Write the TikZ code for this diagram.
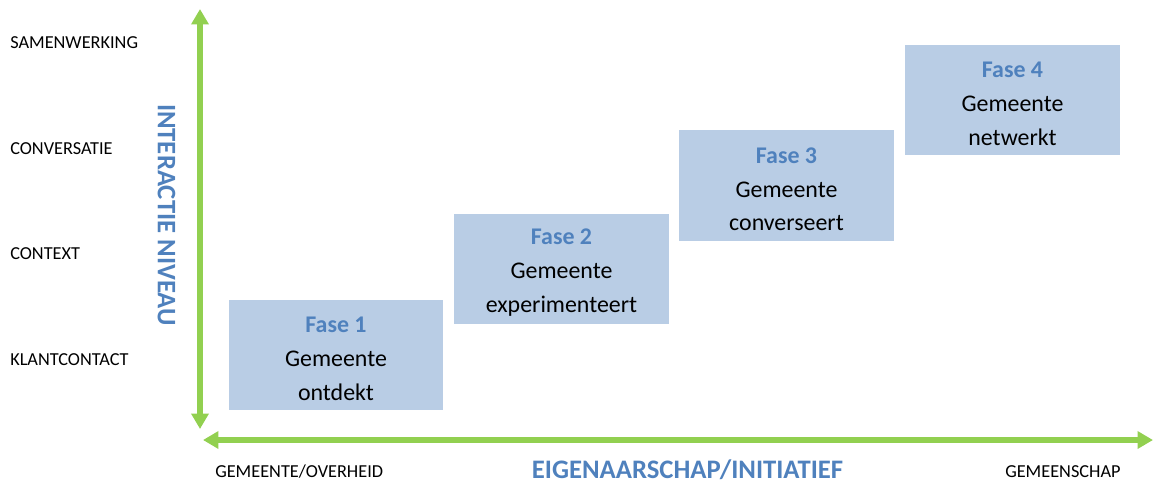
\documentclass[tikz,border=0pt]{standalone}
\usepackage{fontspec}
\setmainfont{Carlito}
\usetikzlibrary{arrows.meta}
\definecolor{axisgreen}{RGB}{146,208,80}
\definecolor{fasefill}{RGB}{185,205,229}
\definecolor{faseblue}{RGB}{79,129,189}
\tikzset{
  axisline/.style={draw=axisgreen, line width=3.6pt,
    {Triangle[length=11pt,width=12pt]}-{Triangle[length=11pt,width=12pt]}},
  fasebox/.style={fill=fasefill, minimum width=5.35cm, minimum height=2.75cm,
    align=center, inner sep=0pt, font=\fontsize{17}{24}\selectfont},
  levellabel/.style={anchor=west, inner sep=0pt, font=\fontsize{13}{15}\selectfont},
  axistitle/.style={inner sep=0pt, text=faseblue, font=\bfseries\fontsize{19}{21}\selectfont}
}
\newcommand{\fase}[1]{\rule{0pt}{16.5pt}\textcolor{faseblue}{\bfseries Fase #1}}
\begin{document}
\begin{tikzpicture}[x=0.025cm, y=-0.025cm]
\useasboundingbox (0,0) rectangle (1153,483);
% axes
\coordinate (ytop) at (200,9);
\coordinate (ybot) at (200,429);
\coordinate (xleft) at (203,440);
\coordinate (xright) at (1153,440);
\draw[axisline] (ybot) -- (ytop);
\draw[axisline] (xleft) -- (xright);
% levels
\node[levellabel] (samen) at (10,43) {SAMENWERKING};
\node[levellabel] (conv) at (10,149) {CONVERSATIE};
\node[levellabel] (context) at (10,254) {CONTEXT};
\node[levellabel] (klant) at (10,360) {KLANTCONTACT};
\node[axistitle, rotate=-90] (niveau) at (166.5,215) {INTERACTIE NIVEAU};
% bottom
\node[levellabel, anchor=base west] (overheid) at (215,477) {GEMEENTE/OVERHEID};
\node[levellabel, anchor=base west] (gemeenschap) at (1005,477) {GEMEENSCHAP};
\node[axistitle, anchor=base] (eigenaar) at (687.5,478) {EIGENAARSCHAP/INITIATIEF};
% fases
\node[fasebox] (fase1) at (336,355) {\fase{1}\\Gemeente\\ontdekt};
\node[fasebox] (fase2) at (561.5,269) {\fase{2}\\Gemeente\\experimenteert};
\node[fasebox] (fase3) at (786.5,185.5) {\fase{3}\\Gemeente\\converseert};
\node[fasebox] (fase4) at (1012.5,100) {\fase{4}\\Gemeente\\netwerkt};
\end{tikzpicture}
\end{document}
